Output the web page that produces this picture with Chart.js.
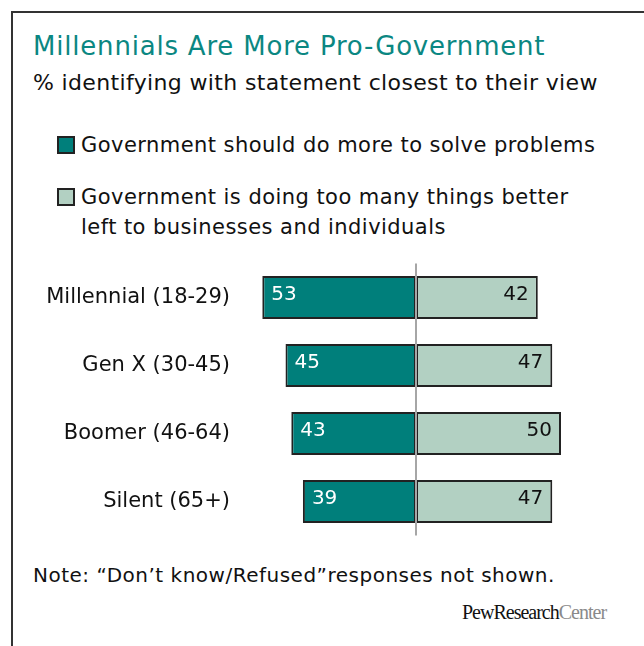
<!DOCTYPE html>
<html>
<head>
<meta charset="utf-8">
<script src="https://cdn.jsdelivr.net/npm/chart.js@4"></script>
<style>
  body { margin: 0; width: 644px; height: 646px; overflow: hidden; background: #fff; position: relative; font-family: "DejaVu Sans", sans-serif; color: #111; }
  .frame { position: absolute; left: 11px; top: 11px; width: 700px; height: 700px; border: 2px solid #333; }
  .t { position: absolute; white-space: nowrap; line-height: 1; }
  .title { left: 33px; top: 33px; font-size: 26px; letter-spacing: 0.8px; color: #0b8782; }
  .sub { left: 33px; top: 72px; font-size: 22px; letter-spacing: 0.35px; }
  .leg { left: 81px; font-size: 21px; letter-spacing: 0.45px; }
  .sw { position: absolute; left: 57px; width: 14px; height: 14px; border: 2px solid #222; }
  .note { left: 33px; top: 565px; font-size: 20px; letter-spacing: 0.5px; }
  .logo { left: 462px; top: 602px; font-family: "Liberation Serif", serif; font-size: 20px; letter-spacing: -1px; }
  .logo span { color: #8a8a8a; }
  #wrap { position: absolute; left: 0; top: 250px; width: 644px; height: 300px; }
</style>
</head>
<body>
<div class="frame"></div>
<div class="t title">Millennials Are More Pro-Government</div>
<div class="t sub">% identifying with statement closest to their view</div>
<div class="sw" style="top:136px;background:#007f7b"></div>
<div class="t leg" style="top:135px">Government should do more to solve problems</div>
<div class="sw" style="top:188px;background:#b2d0c2"></div>
<div class="t leg" style="top:187px">Government is doing too many things better</div>
<div class="t leg" style="top:217px">left to businesses and individuals</div>
<div id="wrap"><canvas id="myChart"></canvas></div>
<div class="t note">Note: “Don’t know/Refused”responses not shown.</div>
<div class="t logo">PewResearch<span>Center</span></div>
<script>
// データ
var generations = ["Millennial (18-29)", "Gen X (30-45)", "Boomer (46-64)", "Silent (65+)"];
var doMore = [53, 45, 43, 39];
var tooMany = [42, 47, 50, 47];

var tealColor = "#007f7b";
var lightColor = "#b2d0c2";

// 数値ラベルと中央線
var barLabels = {
  id: "barLabels",
  afterDatasetsDraw: function(chart) {
    var ctx = chart.ctx;
    ctx.save();
    ctx.font = "20px 'DejaVu Sans', sans-serif";
    ctx.textBaseline = "alphabetic";
    chart.data.datasets.forEach(function(ds, i) {
      var meta = chart.getDatasetMeta(i);
      meta.data.forEach(function(bar, j) {
        var p = bar.getProps(["x", "y", "base"], true);
        var v = i == 0 ? doMore[j] : tooMany[j];
        if (i == 0) {
          ctx.fillStyle = "#fff";
          ctx.textAlign = "left";
          ctx.fillText(v, p.x + 9, p.y + 2.5);
        } else {
          ctx.fillStyle = "#111";
          ctx.textAlign = "right";
          ctx.fillText(v, p.x - 9, p.y + 2.5);
        }
      });
    });
    // 0 の線
    var x0 = Math.round(chart.scales.x.getPixelForValue(0));
    ctx.strokeStyle = "#a6a6a6";
    ctx.lineWidth = 2;
    ctx.beginPath();
    ctx.moveTo(x0, chart.chartArea.top);
    ctx.lineTo(x0, chart.chartArea.bottom);
    ctx.stroke();
    ctx.restore();
  }
};

var ctx = document.getElementById("myChart").getContext("2d");
var myChart = new Chart(ctx, {
  type: "bar",
  data: {
    labels: generations,
    datasets: [
      { label: "Government should do more to solve problems", data: doMore.map(function(v) { return -v; }), backgroundColor: tealColor },
      { label: "Government is doing too many things better left to businesses and individuals", data: tooMany, backgroundColor: lightColor }
    ]
  },
  options: {
    indexAxis: "y",
    responsive: true,
    maintainAspectRatio: false,
    animation: false,
    layout: { padding: { top: 13.5, bottom: 14.5, right: 54, left: 0 } },
    datasets: {
      bar: { borderColor: "#222", borderWidth: 2, borderSkipped: false, barPercentage: 0.63, categoryPercentage: 1 }
    },
    plugins: { legend: { display: false }, tooltip: { enabled: false } },
    scales: {
      x: { stacked: true, min: -60, max: 60, display: false },
      y: {
        stacked: true,
        grid: { display: false, drawTicks: false },
        border: { display: false },
        ticks: { color: "#111", font: { family: "'DejaVu Sans', sans-serif", size: 21 }, padding: 12 },
        afterFit: function(scale) {
          scale.width = 242;
          scale.paddingTop = 0;
          scale.paddingBottom = 0;
        }
      }
    }
  },
  plugins: [barLabels]
});
</script>
</body>
</html>
